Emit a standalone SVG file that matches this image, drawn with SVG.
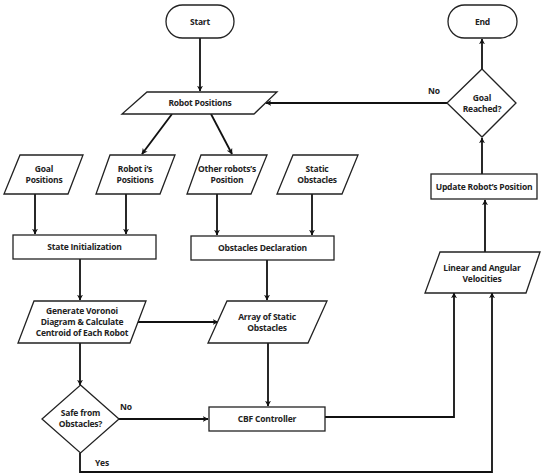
<svg xmlns="http://www.w3.org/2000/svg" width="550" height="476" viewBox="0 0 550 476">
<defs>
<marker id="ah" viewBox="0 0 10 10" refX="9" refY="5" markerWidth="6" markerHeight="6" orient="auto" markerUnits="userSpaceOnUse">
<path d="M0,0 L10,5 L0,10 L3,5 z" fill="#111"/>
</marker>
<style>
.s{fill:#fff;stroke:#222;stroke-width:1.3}
.c{fill:none;stroke:#111;stroke-width:1.8}
.a{marker-end:url(#ah)}
text{font-family:"Open Sans","Noto Sans",sans-serif;font-weight:700;font-size:8.5px;fill:#222;text-anchor:middle;letter-spacing:-0.2px}
</style>
</defs>
<rect width="550" height="476" fill="#fff"/>
<g id="connectors">
<path class="c a" d="M200,38 V91"/>
<path class="c a" d="M172,114 L142,154"/>
<path class="c a" d="M211,114 L232,154"/>
<path class="c a" d="M447,103 H266"/>
<path class="c a" d="M482,69 V39"/>
<path class="c a" d="M35,194 V234"/>
<path class="c a" d="M126,194 V234"/>
<path class="c a" d="M217,194 V235"/>
<path class="c a" d="M312,194 V235"/>
<path class="c a" d="M80,259 V300"/>
<path class="c a" d="M267,260 V300"/>
<path class="c a" d="M137,322 H218"/>
<path class="c a" d="M80,343 V385"/>
<path class="c a" d="M268,343 V406"/>
<path class="c a" d="M119,419 H208"/>
<path class="c a" d="M325,417 H454 V293"/>
<path class="c a" d="M80,453 V472 H492 V293"/>
<path class="c a" d="M485,252 V200"/>
<path class="c a" d="M482,174 V138"/>
</g>
<g id="labels">
<text x="434" y="94">No</text>
<text x="126" y="410">No</text>
<text x="102" y="466">Yes</text>
</g>
<g id="start"><rect class="s" x="166" y="5" width="68" height="33" rx="16.5"/><text x="200" y="24.5">Start</text></g>
<g id="end"><rect class="s" x="448" y="5" width="69" height="33" rx="16.5"/><text x="482.5" y="24.5">End</text></g>
<g id="robot-positions"><polygon class="s" points="147,92 277,92 254,114 122,114"/><text x="200" y="106">Robot Positions</text></g>
<g id="goal-reached"><polygon class="s" points="482,69 516,103 482,137 447,103"/><text x="482" y="101">Goal</text><text x="482" y="112">Reached?</text></g>
<g id="goal-positions"><polygon class="s" points="20,155 83,155 68,194 4,194"/><text x="44" y="172">Goal</text><text x="44" y="183">Positions</text></g>
<g id="robot-i"><polygon class="s" points="110,155 175,155 160,194 96,194"/><text x="135" y="172">Robot i’s</text><text x="135" y="183">Positions</text></g>
<g id="other-robots"><polygon class="s" points="201,155 267,155 251,194 187,194"/><text x="227" y="172">Other robots’s</text><text x="227" y="183">Position</text></g>
<g id="static-obstacles"><polygon class="s" points="293,155 358,155 342,194 277,194"/><text x="317" y="172">Static</text><text x="317" y="183">Obstacles</text></g>
<g id="state-init"><rect class="s" x="13" y="235" width="143" height="24"/><text x="84.5" y="250">State Initialization</text></g>
<g id="obstacles-decl"><rect class="s" x="191" y="236" width="143" height="24"/><text x="262.5" y="251">Obstacles Declaration</text></g>
<g id="voronoi"><polygon class="s" points="34,301 146,301 130,343 18,343"/><text x="82" y="314">Generate Voronoi</text><text x="82" y="325">Diagram &amp; Calculate</text><text x="82" y="336">Centroid of Each Robot</text></g>
<g id="array-static"><polygon class="s" points="227,301 327,301 308,343 208,343"/><text x="267" y="320">Array of Static</text><text x="267" y="331">Obstacles</text></g>
<g id="safe"><polygon class="s" points="80.5,385 119,419 80.5,453 42,419"/><text x="80.5" y="416">Safe from</text><text x="80.5" y="427">Obstacles?</text></g>
<g id="cbf"><rect class="s" x="209" y="407" width="116" height="24"/><text x="267" y="422">CBF Controller</text></g>
<g id="velocities"><polygon class="s" points="440,252 540,252 526,293 425,293"/><text x="482" y="271">Linear and Angular</text><text x="482" y="282">Velocities</text></g>
<g id="update"><rect class="s" x="431" y="174" width="106" height="25"/><text x="484" y="189.5">Update Robot’s Position</text></g>
</svg>
